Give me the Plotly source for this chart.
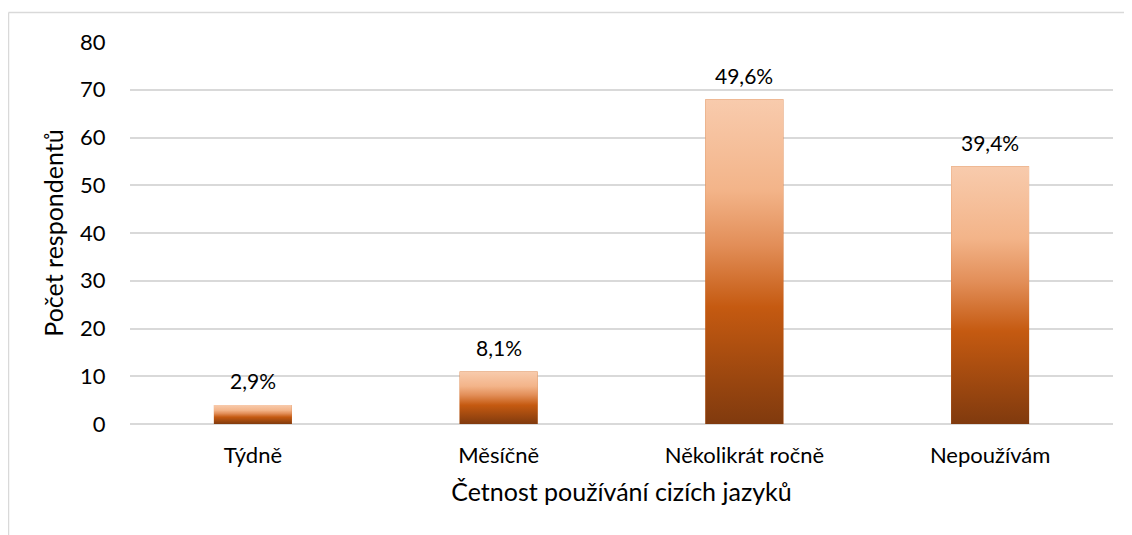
import plotly.graph_objects as go

categories = ["Týdně", "Měsíčně", "Několikrát ročně", "Nepoužívám"]
counts = [4, 11, 68, 54]
percent_labels = ["2,9%", "8,1%", "49,6%", "39,4%"]
y_ticks = [0, 10, 20, 30, 40, 50, 60, 70, 80]

FONT = "Lato"
TICK_SIZE = 22
TITLE_SIZE = 25
BAR_W = 0.317
gradient = [
    [0.0, "rgb(128,58,14)"],
    [0.36, "rgb(197,90,17)"],
    [0.55, "rgb(226,142,88)"],
    [0.72, "rgb(243,180,137)"],
    [1.0, "rgb(248,203,173)"],
]

fig = go.Figure()

# base bars on the category axis
fig.add_trace(go.Bar(
    x=categories, y=counts, width=BAR_W,
    marker=dict(color="rgb(197,90,17)", line=dict(width=0)),
    hoverinfo="skip", showlegend=False,
))

# gradient overlay for each bar, drawn on an overlaid linear axis
for i, v in enumerate(counts):
    x0, x1 = i - BAR_W / 2, i + BAR_W / 2
    fig.add_trace(go.Scatter(
        x=[x0, x1, x1, x0, x0], y=[0, 0, v, v, 0],
        xaxis="x2", mode="lines", line=dict(width=0),
        fill="toself",
        fillgradient=dict(type="vertical", colorscale=gradient, start=0, stop=v),
        hoverinfo="skip", showlegend=False,
    ))

# data labels
annotations = [
    dict(x=c, y=v, xref="x", yref="y", text=t, showarrow=False,
         yanchor="middle", yshift=24,
         font=dict(family=FONT, size=TICK_SIZE - 1, color="#000000"))
    for c, v, t in zip(categories, counts, percent_labels)
]

fig.update_layout(
    width=1124, height=527,
    margin=dict(l=122, r=19, t=34, b=111),
    paper_bgcolor="white", plot_bgcolor="white",
    font=dict(family=FONT, size=TICK_SIZE, color="#000000"),
    annotations=annotations,
    xaxis=dict(
        type="category", range=[-0.5, 3.5],
        showgrid=False, showline=False, zeroline=False,
        ticks="outside", ticklen=12, tickcolor="rgba(0,0,0,0)",
        tickfont=dict(family=FONT, size=TICK_SIZE, color="#000000"),
        title=dict(text="Četnost používání cizích jazyků", standoff=16,
                   font=dict(family=FONT, size=TITLE_SIZE, color="#000000")),
    ),
    xaxis2=dict(
        overlaying="x", range=[-0.5, 3.5], visible=False,
    ),
    yaxis=dict(
        range=[0, 80], tickvals=y_ticks,
        showgrid=True, gridcolor="#D9D9D9", gridwidth=1.5,
        zeroline=True, zerolinecolor="#D9D9D9", zerolinewidth=1.5,
        showline=False,
        ticks="outside", ticklen=19, tickcolor="rgba(0,0,0,0)",
        tickfont=dict(family=FONT, size=TICK_SIZE, color="#000000"),
        title=dict(text="Počet respondentů", standoff=9,
                   font=dict(family=FONT, size=TITLE_SIZE, color="#000000")),
    ),
    shapes=[
        dict(type="line", xref="paper", yref="paper",
             x0=-0.1236, x1=1.03, y0=1.0772, y1=1.0772,
             line=dict(color="#D9D9D9", width=1.5)),
        dict(type="line", xref="paper", yref="paper",
             x0=-0.1236, x1=-0.1236, y0=1.0772, y1=-0.31,
             line=dict(color="#D9D9D9", width=1.5)),
    ],
)

fig.write_html("out.html")
